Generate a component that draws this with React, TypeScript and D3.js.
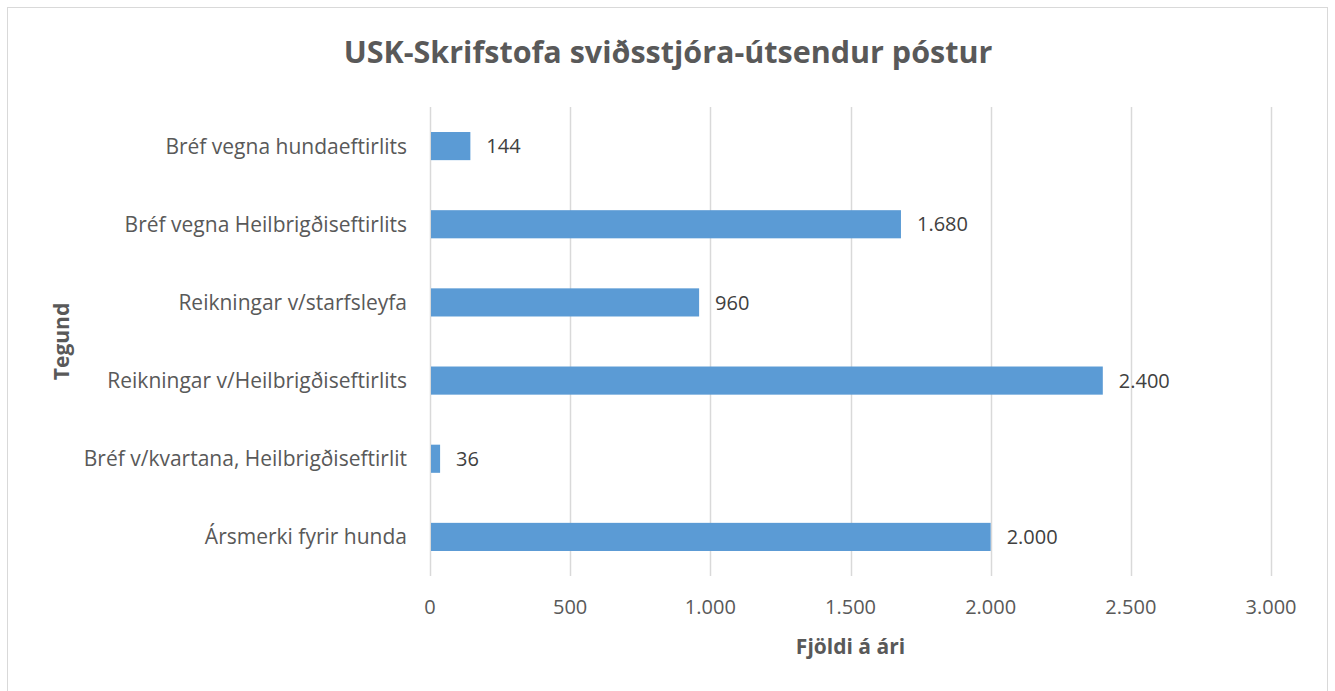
import React, { useEffect, useRef } from 'react';
import * as d3 from 'd3';

const categories = [
  'Bréf vegna hundaeftirlits',
  'Bréf vegna Heilbrigðiseftirlits',
  'Reikningar v/starfsleyfa',
  'Reikningar v/Heilbrigðiseftirlits',
  'Bréf v/kvartana, Heilbrigðiseftirlit',
  'Ársmerki fyrir hunda',
];
const values = [144, 1680, 960, 2400, 36, 2000];
const xTicks = [0, 500, 1000, 1500, 2000, 2500, 3000];

const title = 'USK-Skrifstofa sviðsstjóra-útsendur póstur';
const xTitle = 'Fjöldi á ári';
const yTitle = 'Tegund';

const fmt = (v: number) => d3.format(',')(v).replace(/,/g, '.');

const App = () => {
  const ref = useRef<SVGSVGElement>(null);

  useEffect(() => {
    const svg = d3.select(ref.current);
    svg.selectAll('*').remove();

    const width = 1335, height = 691;
    const margin = { top: 107, right: 64, bottom: 115, left: 430 };
    const font = '"Open Sans", sans-serif';
    const textColor = '#595959';

    // chart frame
    svg.append('rect')
      .attr('x', 7.5).attr('y', 7.5)
      .attr('width', 1320).attr('height', 700)
      .attr('fill', '#fff').attr('stroke', '#d9d9d9').attr('stroke-width', 1);

    const x = d3.scaleLinear().domain([0, 3000])
      .range([margin.left, width - margin.right]);
    const y = d3.scaleBand().domain(categories)
      .range([margin.top, height - margin.bottom])
      .paddingInner(0.64).paddingOuter(0.32);

    // grid
    svg.append('g')
      .selectAll('line')
      .data(xTicks)
      .enter()
      .append('line')
      .attr('x1', d => Math.round(x(d)) + 0.5)
      .attr('x2', d => Math.round(x(d)) + 0.5)
      .attr('y1', margin.top)
      .attr('y2', height - margin.bottom)
      .attr('stroke', '#d9d9d9')
      .attr('stroke-width', 1.5);

    // bars
    svg.selectAll('rect.bar')
      .data(values)
      .enter()
      .append('rect')
      .attr('class', 'bar')
      .attr('x', x(0) + 1)
      .attr('y', (d, i) => y(categories[i])!)
      .attr('width', d => x(d) - x(0) - 1)
      .attr('height', y.bandwidth())
      .attr('fill', '#5b9bd5');

    // value labels
    svg.selectAll('text.val')
      .data(values)
      .enter()
      .append('text')
      .attr('class', 'val')
      .attr('x', d => x(d) + 16)
      .attr('y', (d, i) => y(categories[i])! + y.bandwidth() / 2)
      .attr('dy', '0.36em')
      .style('font-family', font)
      .style('font-size', '20px')
      .style('fill', '#404040')
      .text(d => fmt(d));

    // category labels
    svg.selectAll('text.cat')
      .data(categories)
      .enter()
      .append('text')
      .attr('class', 'cat')
      .attr('x', margin.left - 23)
      .attr('y', d => y(d)! + y.bandwidth() / 2)
      .attr('dy', '0.36em')
      .attr('text-anchor', 'end')
      .style('font-family', font)
      .style('font-size', '21px')
      .style('fill', textColor)
      .text(d => d);

    // x tick labels
    svg.selectAll('text.tick')
      .data(xTicks)
      .enter()
      .append('text')
      .attr('class', 'tick')
      .attr('x', d => x(d))
      .attr('y', 607)
      .attr('dy', '0.36em')
      .attr('text-anchor', 'middle')
      .style('font-family', font)
      .style('font-size', '20px')
      .style('fill', textColor)
      .text(d => fmt(d));

    svg.append('text')
      .attr('x', (margin.left + width - margin.right) / 2)
      .attr('y', 646)
      .attr('dy', '0.36em')
      .attr('text-anchor', 'middle')
      .style('font-family', font)
      .style('font-size', '21px')
      .style('font-weight', 700)
      .style('fill', textColor)
      .text(xTitle);

    svg.append('text')
      .attr('transform', `translate(61, ${(margin.top + height - margin.bottom) / 2}) rotate(-90)`)
      .attr('dy', '0.36em')
      .attr('text-anchor', 'middle')
      .style('font-family', font)
      .style('font-size', '21px')
      .style('font-weight', 700)
      .style('fill', textColor)
      .text(yTitle);

    svg.append('text')
      .attr('x', 668)
      .attr('y', 52)
      .attr('dy', '0.36em')
      .attr('text-anchor', 'middle')
      .style('font-family', font)
      .style('font-size', '30.5px')
      .style('font-weight', 700)
      .style('fill', textColor)
      .text(title);
  });

  return (
    <svg ref={ref} width="1335" height="691"
      style={{ position: 'absolute', left: 0, top: 0, background: '#fff' }}></svg>
  );
};

export default App;
